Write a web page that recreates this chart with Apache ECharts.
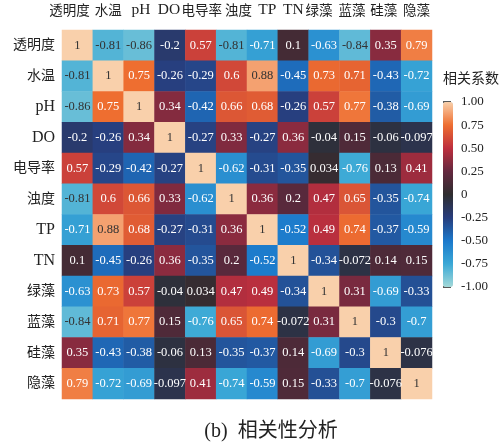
<!DOCTYPE html>
<html>
<head>
<meta charset="utf-8">
<script src="https://cdn.jsdelivr.net/npm/echarts@6/dist/echarts.min.js"></script>
<style>
  html, body { margin: 0; padding: 0; background: #fff; }
  #chart { width: 502px; height: 447px; }
</style>
</head>
<body>
<div id="chart"></div>
<script>
// Water-quality variables and algae groups
const variables = ['透明度', '水温', 'pH', 'DO', '电导率', '浊度', 'TP', 'TN', '绿藻', '蓝藻', '硅藻', '隐藻'];

// Pearson correlation matrix, one row per variable
const r_透明度 = [1, -0.81, -0.86, -0.2, 0.57, -0.81, -0.71, 0.1, -0.63, -0.84, 0.35, 0.79];
const r_水温   = [-0.81, 1, 0.75, -0.26, -0.29, 0.6, 0.88, -0.45, 0.73, 0.71, -0.43, -0.72];
const r_pH     = [-0.86, 0.75, 1, 0.34, -0.42, 0.66, 0.68, -0.26, 0.57, 0.77, -0.38, -0.69];
const r_DO     = [-0.2, -0.26, 0.34, 1, -0.27, 0.33, -0.27, 0.36, -0.04, 0.15, -0.06, -0.097];
const r_电导率 = [0.57, -0.29, -0.42, -0.27, 1, -0.62, -0.31, -0.35, 0.034, -0.76, 0.13, 0.41];
const r_浊度   = [-0.81, 0.6, 0.66, 0.33, -0.62, 1, 0.36, 0.2, 0.47, 0.65, -0.35, -0.74];
const r_TP     = [-0.71, 0.88, 0.68, -0.27, -0.31, 0.36, 1, -0.52, 0.49, 0.74, -0.37, -0.59];
const r_TN     = [0.1, -0.45, -0.26, 0.36, -0.35, 0.2, -0.52, 1, -0.34, -0.072, 0.14, 0.15];
const r_绿藻   = [-0.63, 0.73, 0.57, -0.04, 0.034, 0.47, 0.49, -0.34, 1, 0.31, -0.69, -0.33];
const r_蓝藻   = [-0.84, 0.71, 0.77, 0.15, -0.76, 0.65, 0.74, -0.072, 0.31, 1, -0.3, -0.7];
const r_硅藻   = [0.35, -0.43, -0.38, -0.06, 0.13, -0.35, -0.37, 0.14, -0.69, -0.3, 1, -0.076];
const r_隐藻   = [0.79, -0.72, -0.69, -0.097, 0.41, -0.74, -0.59, 0.15, -0.33, -0.7, -0.076, 1];

const rows = [r_透明度, r_水温, r_pH, r_DO, r_电导率, r_浊度, r_TP, r_TN, r_绿藻, r_蓝藻, r_硅藻, r_隐藻];

// Colour bar ticks
const barTicks = [1, 0.75, 0.5, 0.25, 0, -0.25, -0.5, -0.75, -1];
const barTickLabels = ['1.00', '0.75', '0.50', '0.25', '0', '-0.25', '-0.50', '-0.75', '-1.00'];

// Diverging ice/fire palette from -1 to 1
const palette = ['#a3d9d8', '#3aa8d6', '#1b78cb', '#283d7c', '#2f2d2f', '#64283f', '#bd2f3e', '#ee6e30', '#f9d0ab'];

// Horizontal nudges (px) for the top header labels so they sit like a typed line
const headerShift = [-8, 0, 2, -1, 1, 7, 5, 0, -5, -3, -2, 0];

const cells = [];
rows.forEach((row, yi) => {
  row.forEach((v, xi) => {
    const light = v >= 0.85 || v <= -0.8;
    cells.push({
      value: [xi, yi, v],
      label: { color: light ? '#333333' : '#ffffff' }
    });
  });
});

const serifFont = "'Liberation Serif', 'Times New Roman', 'Noto Sans CJK SC', serif";
const isLatin = s => /^[A-Za-z]+$/.test(s);

// Rich styles: Latin names are set a little larger than the CJK ones,
// and header labels are shifted left/right by padding one side
const headerRich = {};
const sideRich = {
  cjk: { fontFamily: serifFont, fontSize: 14, color: '#222' },
  lat: { fontFamily: serifFont, fontSize: 16, color: '#222' }
};
headerShift.forEach((s, i) => {
  headerRich['h' + i] = {
    fontFamily: serifFont, fontSize: isLatin(variables[i]) ? 15.5 : 13.5, color: '#222',
    padding: s < 0 ? [0, -2 * s, 0, 0] : [0, 0, 0, 2 * s]
  };
});

const chart = echarts.init(document.getElementById('chart'));
chart.setOption({
  backgroundColor: '#ffffff',
  animation: false,
  title: {
    text: '(b)  相关性分析',
    left: 266,
    textAlign: 'center',
    top: 417,
    textStyle: { fontFamily: serifFont, fontSize: 20, fontWeight: 'normal', color: '#222' }
  },
  grid: [
    { left: 62, top: 30, width: 370, height: 369 },
    { left: 443, top: 102, width: 10, height: 185 }
  ],
  xAxis: [
    {
      type: 'category', data: variables, position: 'top', gridIndex: 0,
      axisLine: { show: false }, axisTick: { show: false }, splitLine: { show: false },
      axisLabel: {
        fontFamily: serifFont, fontSize: 13.5, color: '#222', margin: 12, interval: 0,
        formatter: (v, i) => '{h' + i + '|' + v + '}',
        rich: headerRich
      }
    },
    { type: 'value', gridIndex: 1, show: false, min: 0, max: 1 }
  ],
  yAxis: [
    {
      type: 'category', data: variables, inverse: true, gridIndex: 0,
      axisLine: { show: false }, axisTick: { show: false }, splitLine: { show: false },
      axisLabel: {
        fontFamily: serifFont, fontSize: 14, color: '#222', margin: 7, interval: 0,
        formatter: v => '{' + (isLatin(v) ? 'lat' : 'cjk') + '|' + v + '}',
        rich: sideRich
      }
    },
    {
      type: 'value', gridIndex: 1, position: 'right', min: -1, max: 1, interval: 0.25,
      axisLine: { show: false },
      axisTick: { show: true, inside: false, length: 8, lineStyle: { color: '#222', width: 1.5 } },
      splitLine: { show: false },
      axisLabel: {
        fontFamily: serifFont, fontSize: 13, color: '#222', margin: 8,
        formatter: v => {
          const i = barTicks.findIndex(t => Math.abs(t - v) < 1e-9);
          return i >= 0 ? barTickLabels[i] : '';
        }
      }
    }
  ],
  visualMap: {
    type: 'continuous',
    min: -1, max: 1,
    seriesIndex: 0,
    calculable: false,
    showLabel: false,
    text: ['', ''],
    left: 443, top: 102,
    itemWidth: 10, itemHeight: 185,
    padding: 0,
    inRange: { color: palette }
  },
  graphic: [{
    type: 'text', left: 443, top: 72,
    style: { text: '相关系数', fontFamily: serifFont, fontSize: 14, fill: '#222' }
  }],
  series: [{
    type: 'heatmap',
    xAxisIndex: 0, yAxisIndex: 0,
    data: cells,
    label: {
      show: true,
      fontFamily: serifFont,
      fontSize: 12.5,
      formatter: p => String(p.value[2])
    },
    itemStyle: { borderWidth: 0 },
    emphasis: { disabled: true }
  }]
});
</script>
</body>
</html>
